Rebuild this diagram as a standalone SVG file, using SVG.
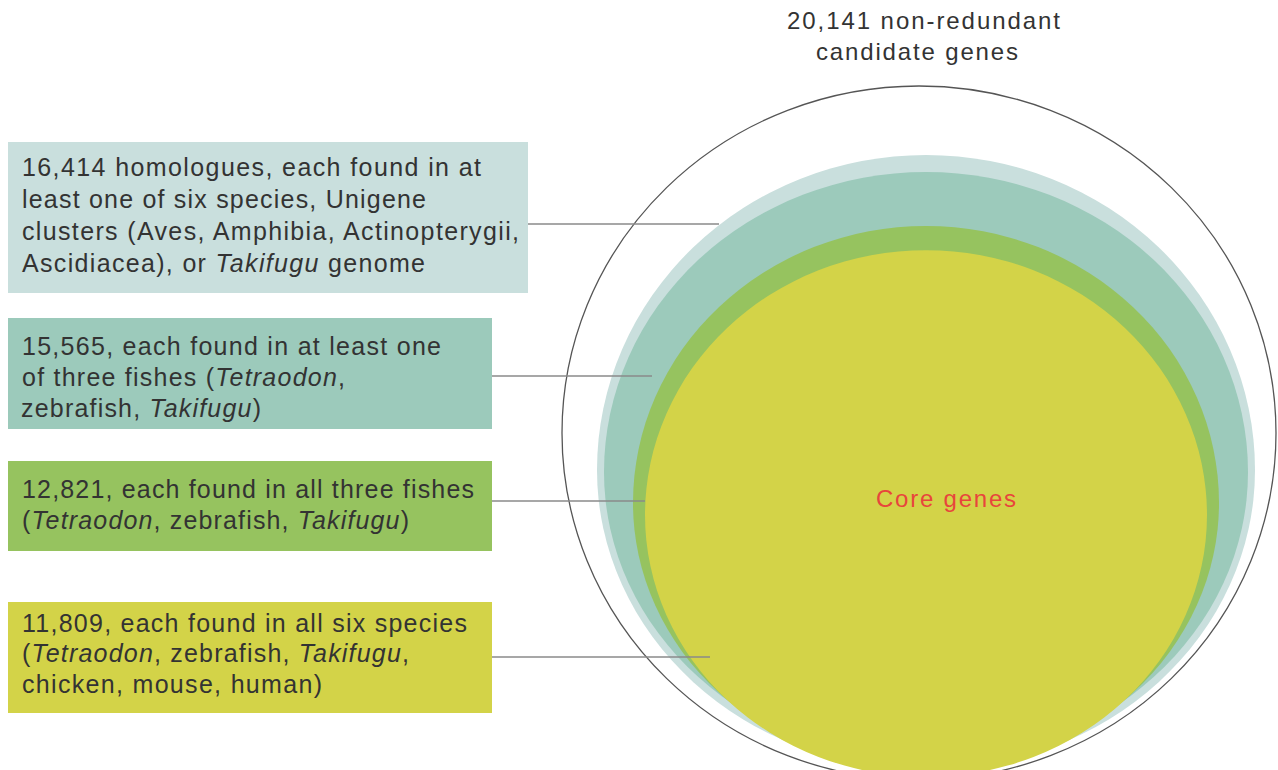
<svg xmlns="http://www.w3.org/2000/svg" width="1278" height="770" viewBox="0 0 1278 770">
<style>
text{font-family:"Liberation Sans",Arial,Helvetica,sans-serif;font-size:25px;fill:#333}
.it{font-style:italic}
.conn{stroke:#8a8a8a;stroke-width:1.5;fill:none}
.b1{fill:#c9dfdd}.b2{fill:#9ccabb}.b3{fill:#96c35f}.b4{fill:#d3d348}
</style>
<defs>
<clipPath id="outer"><ellipse cx="919" cy="433" rx="357" ry="347"/></clipPath>
</defs>
<rect width="1278" height="770" fill="#fff"/>
<g id="sets">
<g clip-path="url(#outer)">
<path class="b1" d="M597,470 A329,315 0 0 1 1255,470 A329,300 0 0 1 597,470Z"/>
<path class="b2" d="M604,472 A322,300 0 0 1 1248,472 A322,290 0 0 1 604,472Z"/>
<path class="b3" d="M633,503 A293,277 0 0 1 1219,503 A293,268 0 0 1 633,503Z"/>
<path class="b4" d="M645,515 A281,265 0 0 1 1207,515 A281,262 0 0 1 645,515Z"/>
</g>
<ellipse cx="919" cy="433" rx="357" ry="347" fill="none" stroke="#555" stroke-width="1.3"/>
<text x="876" y="507" textLength="140" lengthAdjust="spacing" style="fill:#e8453c;font-size:24px">Core genes</text>
</g>
<g id="title">
<text x="787" y="29" textLength="273" lengthAdjust="spacing" style="font-size:24px">20,141 non-redundant</text>
<text x="816" y="60" textLength="202" lengthAdjust="spacing" style="font-size:24px">candidate genes</text>
</g>
<g id="connectors">
<line class="conn" x1="528" y1="224" x2="719" y2="224"/>
<line class="conn" x1="492" y1="376" x2="652" y2="376"/>
<line class="conn" x1="492" y1="501" x2="645" y2="501"/>
<line class="conn" x1="492" y1="657" x2="710" y2="657"/>
</g>
<g id="box1">
<rect class="b1" x="8" y="142" width="520" height="151"/>
<text x="22" y="176" textLength="459" lengthAdjust="spacing">16,414 homologues, each found in at</text>
<text x="22" y="208" textLength="404" lengthAdjust="spacing">least one of six species, Unigene</text>
<text x="22" y="240" textLength="497" lengthAdjust="spacing">clusters (Aves, Amphibia, Actinopterygii,</text>
<text x="22" y="272" textLength="403" lengthAdjust="spacing">Ascidiacea), or <tspan class="it">Takifugu</tspan> genome</text>
</g>
<g id="box2">
<rect class="b2" x="8" y="318" width="484" height="111"/>
<text x="22" y="355" textLength="419" lengthAdjust="spacing">15,565, each found in at least one</text>
<text x="22" y="386" textLength="323" lengthAdjust="spacing">of three fishes (<tspan class="it">Tetraodon</tspan>,</text>
<text x="21" y="417" textLength="240" lengthAdjust="spacing">zebrafish, <tspan class="it">Takifugu</tspan>)</text>
</g>
<g id="box3">
<rect class="b3" x="8" y="461" width="484" height="90"/>
<text x="22" y="498" textLength="452" lengthAdjust="spacing">12,821, each found in all three fishes</text>
<text x="22" y="529" textLength="387" lengthAdjust="spacing">(<tspan class="it">Tetraodon</tspan>, zebrafish, <tspan class="it">Takifugu</tspan>)</text>
</g>
<g id="box4">
<rect class="b4" x="8" y="602" width="484" height="111"/>
<text x="22" y="632" textLength="445" lengthAdjust="spacing">11,809, each found in all six species</text>
<text x="22" y="662" textLength="387" lengthAdjust="spacing">(<tspan class="it">Tetraodon</tspan>, zebrafish, <tspan class="it">Takifugu</tspan>,</text>
<text x="22" y="693" textLength="300" lengthAdjust="spacing">chicken, mouse, human)</text>
</g>
</svg>
